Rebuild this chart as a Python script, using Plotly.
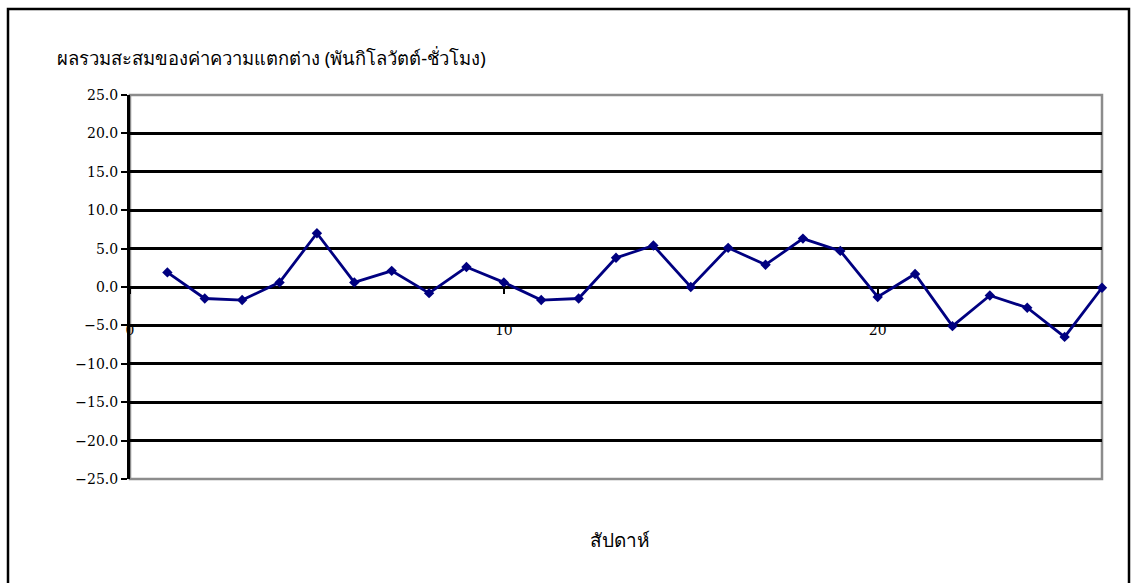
import plotly.graph_objects as go

# Weekly cumulative difference (thousand kWh)
weeks = list(range(1, 27))
cum_diff = [1.9, -1.5, -1.7, 0.6, 7.0, 0.6, 2.1, -0.8, 2.6, 0.6,
            -1.7, -1.5, 3.8, 5.4, 0.0, 5.1, 2.9, 6.3, 4.7, -1.3,
            1.7, -5.1, -1.1, -2.7, -6.5, -0.1]

y_ticks = [-25, -20, -15, -10, -5, 0, 5, 10, 15, 20, 25]
x_ticks = [0, 10, 20]

title_text = "ผลรวมสะสมของค่าความแตกต่าง (พันกิโลวัตต์-ชั่วโมง)"
x_title = "สัปดาห์"

W, H = 1133, 583
ML, MR, MT, MB = 130, 31, 95, 104
PW, PH = W - ML - MR, H - MT - MB


def px_x(px):
    return (px - ML) / PW


def px_y(py):
    return (H - MB - py) / PH


fig = go.Figure()
fig.add_trace(go.Scatter(
    x=weeks, y=cum_diff, mode="lines+markers",
    line=dict(color="#000080", width=2.8),
    marker=dict(symbol="diamond", size=8, color="#000080"),
    showlegend=False, cliponaxis=False,
))

num_font = dict(family="DejaVu Serif", size=14, color="black")

fig.update_layout(
    width=W, height=H,
    margin=dict(l=ML, r=MR, t=MT, b=MB),
    paper_bgcolor="white", plot_bgcolor="white",
    xaxis=dict(
        range=[0, 26], tickmode="array", tickvals=x_ticks,
        ticktext=[str(v) for v in x_ticks],
        showgrid=False, zeroline=False, showline=False,
        ticks="outside", ticklen=6, tickwidth=2, tickcolor="black",
        anchor="free", position=0.5, ticklabelstandoff=24,
        tickfont=num_font,
    ),
    yaxis=dict(
        range=[-25, 25], tickmode="array", tickvals=y_ticks,
        ticktext=[f"{v:.1f}".replace("-", "\u2212") for v in y_ticks],
        showgrid=True, gridcolor="black", gridwidth=2.5,
        zeroline=False, showline=True, linecolor="black", linewidth=3,
        ticks="outside", ticklen=6, tickwidth=2, tickcolor="black",
        tickfont=num_font,
    ),
    shapes=[
        # plot area frame
        dict(type="rect", xref="paper", yref="paper", x0=0, x1=1, y0=0, y1=1,
             line=dict(color="#8c8c8c", width=2.5), layer="between"),
        # outer chart frame
        dict(type="rect", xref="paper", yref="paper",
             x0=px_x(8), x1=px_x(1129), y0=px_y(600), y1=px_y(9),
             line=dict(color="black", width=2.5)),
    ],
    annotations=[
        dict(text=title_text, xref="paper", yref="paper",
             x=px_x(55), y=px_y(58), xanchor="left", yanchor="middle",
             showarrow=False, font=dict(family="Noto Sans, DejaVu Serif", size=18.4, color="black")),
        dict(text=x_title, xref="paper", yref="paper",
             x=px_x(620), y=px_y(540), xanchor="center", yanchor="middle",
             showarrow=False, font=dict(family="Noto Sans, DejaVu Sans", size=19, color="black")),
    ],
)

fig.write_html("out.html")
